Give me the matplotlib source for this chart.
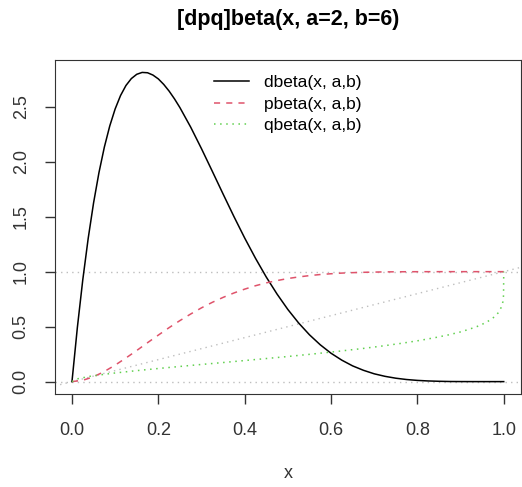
import matplotlib.pyplot as plt

plt.rcParams['font.family'] = ['Liberation Sans', 'DejaVu Sans']

# valori
dbeta_x = [0.0, 0.0125, 0.025, 0.0375, 0.05, 0.0625, 0.075, 0.0875, 0.1, 0.1125,
           0.125, 0.1375, 0.15, 0.1625, 0.175, 0.1875, 0.2, 0.2125, 0.225, 0.2375,
           0.25, 0.275, 0.3, 0.325, 0.35, 0.375, 0.4, 0.425, 0.45, 0.475,
           0.5, 0.525, 0.55, 0.575, 0.6, 0.625, 0.65, 0.675, 0.7, 0.725,
           0.75, 0.775, 0.8, 0.825, 0.85, 0.875, 0.9, 0.925, 0.95, 0.975, 1.0]
dbeta_y = [0.0, 0.493, 0.925, 1.301, 1.625, 1.901, 2.133, 2.325, 2.480, 2.602,
           2.693, 2.756, 2.795, 2.812, 2.809, 2.788, 2.753, 2.703, 2.642, 2.571,
           2.492, 2.314, 2.118, 1.913, 1.706, 1.502, 1.306, 1.122, 0.951, 0.796,
           0.656, 0.533, 0.426, 0.335, 0.258, 0.195, 0.143, 0.103, 0.071, 0.048,
           0.031, 0.019, 0.011, 0.006, 0.003, 0.001, 0.0004, 0.0001, 0.0, 0.0, 0.0]

pbeta_x = [0.0, 0.025, 0.05, 0.075, 0.1, 0.125, 0.15, 0.175, 0.2, 0.225,
           0.25, 0.275, 0.3, 0.325, 0.35, 0.375, 0.4, 0.425, 0.45, 0.475,
           0.5, 0.525, 0.55, 0.575, 0.6, 0.625, 0.65, 0.675, 0.7, 0.725,
           0.75, 0.775, 0.8, 0.825, 0.85, 0.875, 0.9, 0.925, 0.95, 0.975, 1.0]
pbeta_y = [0.0, 0.012, 0.044, 0.092, 0.150, 0.215, 0.283, 0.354, 0.423, 0.491,
           0.555, 0.615, 0.671, 0.721, 0.766, 0.806, 0.841, 0.872, 0.898, 0.919,
           0.9375, 0.952, 0.964, 0.974, 0.981, 0.987, 0.991, 0.994, 0.996, 0.998,
           0.9987, 0.9993, 0.9996, 0.9998, 0.9999, 1.0, 1.0, 1.0, 1.0, 1.0, 1.0]

qbeta_p = [0.0, 0.012, 0.044, 0.092, 0.150, 0.215, 0.283, 0.354, 0.423, 0.491,
           0.555, 0.615, 0.671, 0.721, 0.766, 0.806, 0.841, 0.872, 0.898, 0.919,
           0.9375, 0.952, 0.964, 0.974, 0.981, 0.987, 0.991, 0.994, 0.996, 0.998,
           0.9987, 0.9993, 0.9996, 1.0]
qbeta_y = [0.0, 0.025, 0.05, 0.075, 0.1, 0.125, 0.15, 0.175, 0.2, 0.225,
           0.25, 0.275, 0.3, 0.325, 0.35, 0.375, 0.4, 0.425, 0.45, 0.475,
           0.5, 0.525, 0.55, 0.575, 0.6, 0.625, 0.65, 0.675, 0.7, 0.725,
           0.75, 0.775, 0.8, 1.0]

legend_labels = ["dbeta(x, a,b)", "pbeta(x, a,b)", "qbeta(x, a,b)"]
x_ticks = [0.0, 0.2, 0.4, 0.6, 0.8, 1.0]
y_ticks = [0.0, 0.5, 1.0, 1.5, 2.0, 2.5]

fig = plt.figure(figsize=(5.22, 4.87), dpi=100)
ax = fig.add_axes([0.1048, 0.191, 0.8933, 0.6858])

# linee grigie di riferimento
ax.axhline(0, color="#BEBEBE", lw=1, dashes=(1, 3))
ax.axhline(1, color="#BEBEBE", lw=1, dashes=(1, 3))
ax.axline((0, 0), (1, 1), color="#BEBEBE", lw=1, dashes=(1, 3))

ax.plot(dbeta_x, dbeta_y, color="black", lw=1.1, label=legend_labels[0])
ax.plot(pbeta_x, pbeta_y, color="#DF536B", lw=1.1, dashes=(4, 4), label=legend_labels[1])
ax.plot(qbeta_p, qbeta_y, color="#61D04F", lw=1.1, dashes=(1, 3), label=legend_labels[2])

ax.set_xlim(-0.04, 1.04)
ax.set_ylim(-0.1125, 2.925)
ax.set_xticks(x_ticks)
ax.set_yticks(y_ticks)
ax.set_xticklabels([f"{v:.1f}" for v in x_ticks])
ax.set_yticklabels([f"{v:.1f}" for v in y_ticks], rotation=90, va="center")
ax.tick_params(direction="out", length=7, width=1, labelsize=13, colors="#333333")
ax.tick_params(axis="x", pad=13)
ax.tick_params(axis="y", pad=11)
for s in ax.spines.values():
    s.set_color("#333333")

ax.set_xlabel("x", fontsize=13, labelpad=19, color="#333333")
fig.text(0.552, 0.959, "[dpq]beta(x, a=2, b=6)", fontsize=15.5, fontweight="bold",
         ha="center", va="center")

ax.legend(loc="upper center", bbox_to_anchor=(0.5, 0.975), frameon=False,
          fontsize=12.5, handlelength=2.0, handletextpad=0.9, labelspacing=0.35,
          borderaxespad=0)

fig.savefig("out.png", dpi=100)
